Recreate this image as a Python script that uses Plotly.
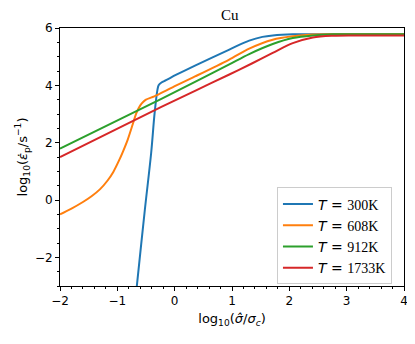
import plotly.graph_objects as go

# log10(sigma_hat/sigma_c) vs log10(strain rate)
temps = ['300', '608', '912', '1733']
colors = ['#1f77b4', '#ff7f0e', '#2ca02c', '#d62728']

x_300 = [-0.68, -0.66, -0.52, -0.41, -0.35, -0.30, -0.28, -0.23, -0.15, 0.03, 0.355, 0.944, 1.30, 1.53, 1.71, 2.06, 2.5, 3.0, 4.0]
y_300 = [-3.4, -3.0, -0.34, 1.64, 3.03, 3.85, 4.0, 4.1, 4.18, 4.37, 4.69, 5.24, 5.56, 5.69, 5.74, 5.78, 5.78, 5.78, 5.78]

x_608 = [-2.0, -1.8, -1.6, -1.45, -1.3, -1.17, -1.07, -0.97, -0.9, -0.82, -0.73, -0.67, -0.60, -0.55, -0.50, -0.40, -0.32, 0.03, 0.355, 0.944, 1.30, 1.71, 2.06, 2.41, 2.8, 4.0]
y_608 = [-0.50, -0.30, -0.07, 0.13, 0.38, 0.68, 0.98, 1.38, 1.70, 2.10, 2.65, 3.02, 3.30, 3.42, 3.50, 3.58, 3.65, 4.00, 4.31, 4.89, 5.28, 5.59, 5.71, 5.77, 5.78, 5.78]

x_912 = [-2.0, -0.232, 0.355, 0.944, 1.30, 1.71, 2.06, 2.41, 2.77, 3.2, 4.0]
y_912 = [1.79, 3.53, 4.12, 4.72, 5.09, 5.44, 5.65, 5.74, 5.78, 5.78, 5.78]

x_1733 = [-2.0, -0.232, 0.355, 0.944, 1.355, 1.71, 2.06, 2.41, 2.77, 3.12, 4.0]
y_1733 = [1.50, 3.25, 3.81, 4.37, 4.77, 5.13, 5.47, 5.67, 5.73, 5.74, 5.74]

fig = go.Figure()
for xs, ys, t, c in zip([x_300, x_608, x_912, x_1733],
                        [y_300, y_608, y_912, y_1733], temps, colors):
    name = '<span style="font-family:DejaVu Sans"><i>T</i> = </span>' + t + 'K'
    fig.add_trace(go.Scatter(x=xs, y=ys, mode='lines', name=name,
                             line=dict(color=c, width=2, shape='spline', smoothing=0.9)))

axis_common = dict(showline=True, linecolor='black', linewidth=1, mirror=True,
                   ticks='outside', ticklen=4, tickwidth=1, tickcolor='black',
                   showgrid=False, zeroline=False,
                   tickfont=dict(family='DejaVu Sans', size=12, color='black'),
                   minor=dict(ticks='outside', ticklen=2, tickcolor='black', tickwidth=1))

fig.update_xaxes(range=[-2, 4], dtick=1, minor_dtick=0.2,
                 title=dict(text='log<sub>10</sub>(<i>σ̂</i>/<i>σ</i><sub><i>c</i></sub>)',
                            font=dict(family='DejaVu Sans', size=13, color='black'), standoff=6),
                 **axis_common)
fig.update_yaxes(range=[-3, 6], dtick=2, minor_dtick=0.5,
                 title=dict(text='log<sub>10</sub>(<i>ε̇</i><sub>p</sub>/s<sup>−1</sup>)',
                            font=dict(family='DejaVu Sans', size=13, color='black'), standoff=4),
                 **axis_common)

# page body has an 8px margin, so the figure is a bit smaller and margins shifted
fig.update_layout(
    width=407, height=336,
    margin=dict(l=52, r=7, t=20, b=58),
    plot_bgcolor='white', paper_bgcolor='white',
    title=dict(text='Cu', x=0.545, xanchor='center', y=0.979, yanchor='middle',
               font=dict(family='Liberation Serif', size=15, color='black')),
    legend=dict(x=0.965, y=0.006, xanchor='right', yanchor='bottom',
                bgcolor='rgba(255,255,255,0.8)', bordercolor='#cccccc', borderwidth=1,
                font=dict(family='Liberation Serif', size=14, color='black'),
                itemwidth=30, tracegroupgap=0),
    showlegend=True,
)

fig.write_html("out.html")
